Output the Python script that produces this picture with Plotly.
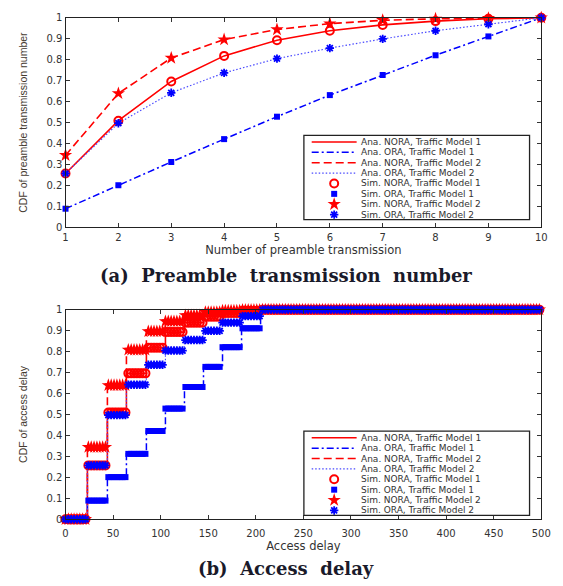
import numpy as np
import plotly.graph_objects as go

W, H = 563, 586

# ---------------- data (a): CDF of preamble transmission number ----------------
n_tx = [1, 2, 3, 4, 5, 6, 7, 8, 9, 10]
nora_tm1 = [0.257, 0.509, 0.696, 0.818, 0.893, 0.938, 0.966, 0.984, 0.995, 1.0]
ora_tm1 = [0.089, 0.201, 0.312, 0.421, 0.528, 0.631, 0.727, 0.821, 0.911, 1.0]
nora_tm2 = [0.344, 0.639, 0.808, 0.896, 0.944, 0.972, 0.988, 0.995, 0.998, 1.0]
ora_tm2 = [0.257, 0.497, 0.642, 0.737, 0.805, 0.855, 0.899, 0.938, 0.969, 1.0]

# ---------------- data (b): CDF of access delay (step CDFs) ----------------
# delay at which each successive transmission completes (one step per transmission)
step_delay = [23, 44, 64, 85, 105, 125, 145, 165, 185, 205]
delay_range = [0, 500]
sim_sample_every = 3          # simulation samples of the delay axis

# tick labels
cdf_ticks = [0, 0.1, 0.2, 0.3, 0.4, 0.5, 0.6, 0.7, 0.8, 0.9, 1.0]
cdf_ticktext = ["0", "0.1", "0.2", "0.3", "0.4", "0.5", "0.6", "0.7", "0.8", "0.9", "1"]
delay_ticks = [0, 50, 100, 150, 200, 250, 300, 350, 400, 450, 500]

names_ana = ["Ana. NORA, Traffic Model 1", "Ana. ORA, Traffic Model 1",
             "Ana. NORA, Traffic Model 2", "Ana. ORA, Traffic Model 2"]
names_sim = ["Sim. NORA, Traffic Model 1", "Sim. ORA, Traffic Model 1",
             "Sim. NORA, Traffic Model 2", "Sim. ORA, Traffic Model 2"]

RED = "#ff0000"
BLUE = "#0000ff"
line_styles = [
    dict(color=RED, width=1.6, dash="solid"),
    dict(color=BLUE, width=1.5, dash="7px,3px,2px,3px"),
    dict(color=RED, width=1.6, dash="8px,4px"),
    dict(color="#4a4aff", width=1.2, dash="1.5px,2px"),
]
marker_styles = [
    dict(symbol="circle-open", size=8, color=RED, line=dict(color=RED, width=2)),
    dict(symbol="square", size=6, color=BLUE, line=dict(width=0)),
    dict(symbol="star", size=10, color=RED, line=dict(width=0)),
    dict(symbol="asterisk-open", size=7, color=BLUE, line=dict(color=BLUE, width=1.8)),
]

series_a = [nora_tm1, ora_tm1, nora_tm2, ora_tm2]

fig = go.Figure()

# ---- (a) analytical lines then simulation markers
for name, ys, st in zip(names_ana, series_a, line_styles):
    fig.add_trace(go.Scatter(x=n_tx, y=ys, mode="lines", name=name, line=st,
                             xaxis="x", yaxis="y", showlegend=False))
for name, ys, mk in zip(names_sim, series_a, marker_styles):
    fig.add_trace(go.Scatter(x=n_tx, y=ys, mode="markers", name=name, marker=mk,
                             xaxis="x", yaxis="y", showlegend=False, cliponaxis=False))

# ---- (b) step CDFs of access delay
sim_delay = np.arange(delay_range[0], delay_range[1] + 1, sim_sample_every)


def step_cdf(levels, d):
    idx = np.searchsorted(np.array(step_delay), d, side="right")
    lv = np.concatenate([[0.0], np.array(levels)])
    return lv[idx]


for name, lv, st in zip(names_ana, series_a, line_styles):
    xs = [delay_range[0]] + step_delay + [delay_range[1]]
    ys = [0.0] + list(lv) + [lv[-1]]
    fig.add_trace(go.Scatter(x=xs, y=ys, mode="lines", name=name, line=dict(st, shape="hv"),
                             xaxis="x2", yaxis="y2", showlegend=False))
for name, lv, mk in zip(names_sim, series_a, marker_styles):
    fig.add_trace(go.Scatter(x=sim_delay, y=step_cdf(lv, sim_delay), mode="markers", name=name,
                             marker=mk, xaxis="x2", yaxis="y2", showlegend=False, cliponaxis=False))

# ---- layout
X0, X1 = 64, 551
TOP = (12, 226)
BOT = (310, 524)


def ydom(p):
    return [1 - p[1] / H, 1 - p[0] / H]


tick_font = dict(family="DejaVu Sans", size=10, color="#333")
title_font = dict(family="DejaVu Sans", size=11.5, color="#333")
ytitle_font = dict(family="Liberation Sans", size=10.5, color="#443a30")
axis_common = dict(showline=True, linecolor="#222", linewidth=1.3, mirror="ticks",
                   ticks="inside", ticklen=4, tickcolor="#333", tickwidth=1,
                   showgrid=False, zeroline=False, tickfont=tick_font)

fig.update_layout(
    width=W, height=H, margin=dict(l=0, r=0, t=0, b=0),
    paper_bgcolor="white", plot_bgcolor="rgba(0,0,0,0)", showlegend=False,
    xaxis=dict(axis_common, domain=[X0 / W, X1 / W], anchor="y", range=[1, 10],
               tickvals=n_tx, title=dict(text="Number of preamble transmission", font=title_font, standoff=2)),
    yaxis=dict(axis_common, domain=ydom(TOP), anchor="x", range=[0, 1],
               tickvals=cdf_ticks, ticktext=cdf_ticktext,
               title=dict(text="CDF of preamble transmission number", font=ytitle_font, standoff=16)),
    xaxis2=dict(axis_common, domain=[X0 / W, X1 / W], anchor="y2", range=delay_range,
                tickvals=delay_ticks, ticklabelstandoff=5,
                title=dict(text="Access delay", font=title_font, standoff=2)),
    yaxis2=dict(axis_common, domain=ydom(BOT), anchor="x2", range=[0, 1],
                tickvals=cdf_ticks, ticktext=cdf_ticktext,
                title=dict(text="CDF of access delay", font=ytitle_font, standoff=16)),
    # overlay pixel axes for the legends
    xaxis3=dict(domain=[0, 1], anchor="y3", range=[0, W], visible=False, fixedrange=True),
    yaxis3=dict(domain=[0, 1], anchor="x3", range=[H, 0], visible=False, fixedrange=True),
)


def add_legend(top_px):
    left, right, height = 308, 539, 86
    fig.add_shape(type="rect", xref="x3", yref="y3", x0=left, x1=right, y0=top_px, y1=top_px + height,
                  line=dict(color="#222", width=1.3), layer="above")
    entries = [(n, "line", s) for n, s in zip(names_ana, line_styles)] + \
              [(n, "marker", m) for n, m in zip(names_sim, marker_styles)]
    for i, (name, kind, style) in enumerate(entries):
        yc = top_px + 6.8 + 10.6 * i
        if kind == "line":
            fig.add_trace(go.Scatter(x=[316, 362], y=[yc, yc], mode="lines", line=style,
                                     xaxis="x3", yaxis="y3", showlegend=False, hoverinfo="skip"))
        else:
            fig.add_trace(go.Scatter(x=[339], y=[yc], mode="markers", marker=style,
                                     xaxis="x3", yaxis="y3", showlegend=False, hoverinfo="skip"))
        fig.add_annotation(x=365, y=yc, xref="x3", yref="y3", text=name, showarrow=False,
                           xanchor="left", yanchor="middle", borderpad=0,
                           font=dict(family="DejaVu Sans", size=9, color="#333"))


add_legend(132)
add_legend(434)

cap_font = dict(family="DejaVu Serif", size=18, color="#1a1a2a", weight="bold")
fig.add_annotation(x=290 / W, y=1 - 275.5 / H, xref="paper", yref="paper", showarrow=False,
                   text="(a)\u00a0\u00a0Preamble\u00a0\u00a0transmission\u00a0\u00a0number",
                   font=cap_font, xanchor="center", yanchor="middle")
fig.add_annotation(x=290 / W, y=1 - 574.5 / H, xref="paper", yref="paper", showarrow=False,
                   text="(b)\u00a0\u00a0Access\u00a0\u00a0delay",
                   font=cap_font, xanchor="center", yanchor="middle")

fig.write_html("out.html")
